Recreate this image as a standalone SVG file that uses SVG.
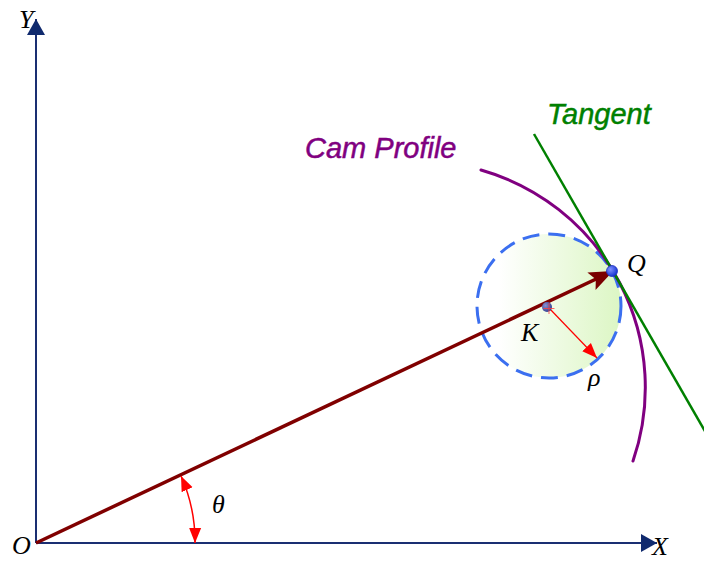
<svg xmlns="http://www.w3.org/2000/svg" width="704" height="561" viewBox="0 0 704 561">
<defs>
<style>
.axis{stroke:#1a2f72;stroke-width:2;fill:none}
.lbl{font-family:"Liberation Serif","Times New Roman",serif;font-style:italic;font-size:26px;fill:#000}
.cap{font-family:"Liberation Sans",Arial,sans-serif;font-style:italic;font-size:29px;stroke-width:0.5}
</style>
<marker id="axArrow" viewBox="0 0 16 18" refX="16" refY="9" markerWidth="16" markerHeight="18" markerUnits="userSpaceOnUse" orient="auto">
<path d="M0,0 L16,9 L0,18 Z" fill="#102a6e"/>
</marker>
<marker id="redArrow" viewBox="0 0 10 10" refX="10" refY="5" markerWidth="15" markerHeight="15" markerUnits="userSpaceOnUse" orient="auto-start-reverse">
<path d="M0,1 L10,5 L0,9 Z" fill="#ff0000"/>
</marker>
<marker id="vecArrow" viewBox="0 0 10 10" refX="9" refY="5" markerWidth="24" markerHeight="24" markerUnits="userSpaceOnUse" orient="auto">
<path d="M0,1 L10,5 L0,9 L2,5 Z" fill="#7a0000"/>
</marker>
<linearGradient id="circFill" x1="0" y1="0" x2="1" y2="0">
<stop offset="0.15" stop-color="#ffffff"/>
<stop offset="1" stop-color="#dcf6c4"/>
</linearGradient>
<radialGradient id="dotQ" cx="0.35" cy="0.35" r="0.7">
<stop offset="0" stop-color="#8090ff"/>
<stop offset="1" stop-color="#1030d0"/>
</radialGradient>
<radialGradient id="dotK" cx="0.35" cy="0.35" r="0.7">
<stop offset="0" stop-color="#8890d0"/>
<stop offset="1" stop-color="#303c90"/>
</radialGradient>
</defs>

<g id="axes">
<line class="axis" x1="36" y1="543" x2="36" y2="19" marker-end="url(#axArrow)"/>
<line class="axis" x1="36" y1="543" x2="657" y2="543" marker-end="url(#axArrow)"/>
<text class="lbl" x="19" y="28">Y</text>
<text class="lbl" x="652" y="555">X</text>
<text class="lbl" x="12" y="554">O</text>
</g>

<g id="osculating-circle">
<circle cx="549" cy="306" r="72" fill="url(#circFill)" stroke="#3b6ff0" stroke-width="3" stroke-dasharray="17,9"/>
</g>

<g id="cam-profile">
<path d="M481,170 A226,226 0 0 1 633,461" fill="none" stroke="#800080" stroke-width="3" stroke-linecap="round"/>
<text class="cap" x="305" y="158" fill="#800080" stroke="#800080">Cam Profile</text>
</g>

<g id="tangent">
<line x1="534" y1="134" x2="706" y2="433" stroke="#008000" stroke-width="2.5"/>
<text class="cap" x="547" y="124" fill="#008000" stroke="#008000">Tangent</text>
</g>

<g id="connectors">
<line x1="36" y1="543" x2="611" y2="272" stroke="#800000" stroke-width="3.5" marker-end="url(#vecArrow)"/>
<path d="M181,476 A160,160 0 0 1 195,543" fill="none" stroke="#ff0000" stroke-width="1.5" marker-start="url(#redArrow)" marker-end="url(#redArrow)"/>
<line x1="549" y1="308" x2="597" y2="358" stroke="#ff0000" stroke-width="1.2" marker-end="url(#redArrow)"/>
</g>

<g id="point-Q">
<circle cx="612" cy="271" r="5.5" fill="url(#dotQ)" stroke="#2030c0" stroke-width="0.8"/>
<text class="lbl" x="627" y="272">Q</text>
</g>

<g id="point-K">
<circle cx="547" cy="307" r="5" fill="url(#dotK)"/>
<path d="M549,303 V314 M543.5,308.5 H554.5" stroke="#ff4040" stroke-width="1" opacity="0.8"/>
<text class="lbl" x="521" y="341">K</text>
</g>

<g id="labels">
<text class="lbl" x="588" y="386">ρ</text>
<text class="lbl" x="212" y="513">θ</text>
</g>
</svg>
